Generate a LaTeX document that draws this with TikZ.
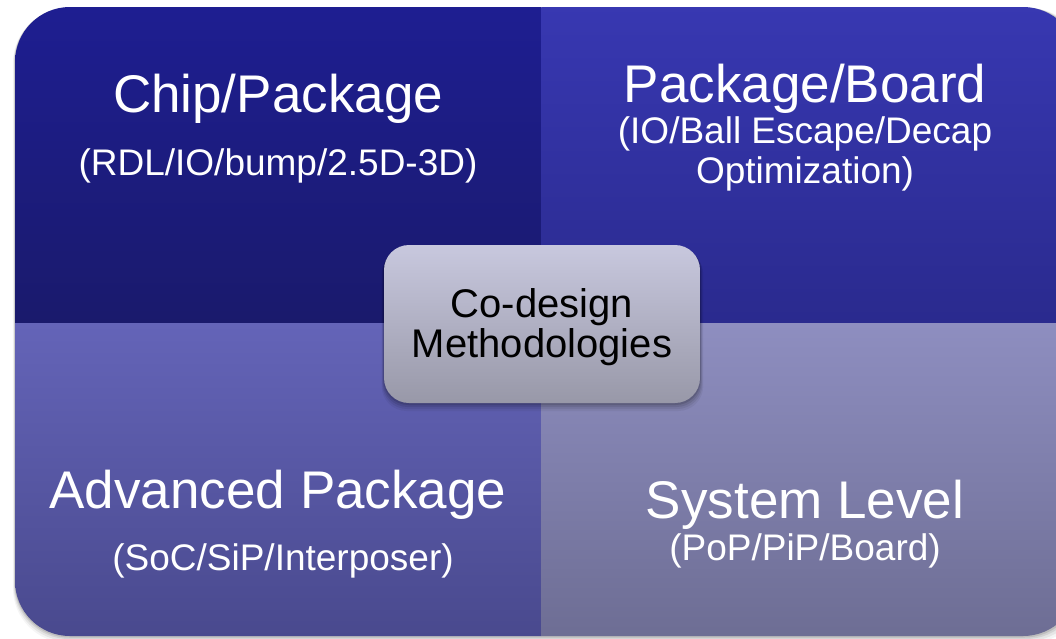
\documentclass[tikz,border=0pt]{standalone}
\usepackage{fontspec}
\setmainfont{Liberation Sans}
\definecolor{tlTop}{RGB}{30,30,146}
\definecolor{tlBot}{RGB}{26,26,108}
\definecolor{trTop}{RGB}{56,56,178}
\definecolor{trBot}{RGB}{42,42,142}
\definecolor{blTop}{RGB}{100,100,184}
\definecolor{blBot}{RGB}{72,72,140}
\definecolor{brTop}{RGB}{142,142,192}
\definecolor{brBot}{RGB}{108,108,146}
\definecolor{coreTop}{RGB}{200,200,222}
\definecolor{coreBot}{RGB}{152,152,168}
\begin{document}
\begin{tikzpicture}[x=1pt,y=-1pt,
  title/.style={text=white,font=\fontsize{53}{60}\selectfont,anchor=base,inner sep=0pt},
  subtitle/.style={text=white,font=\fontsize{37}{42}\selectfont,anchor=base,inner sep=0pt},
  corebox/.style={rounded corners=25pt,minimum width=316pt,minimum height=158pt,
    top color=coreTop,bottom color=coreBot,align=center,text=black,
    font=\fontsize{40}{40}\selectfont,inner sep=0pt}]
\useasboundingbox (0,0) rectangle (1056,638);
\fill[white] (0,0) rectangle (1056,638);
% soft shadow under the panel
\foreach \o/\a in {7/0.04,5/0.06,3/0.08,1.5/0.1}
  \fill[black,opacity=\a,rounded corners=55pt] (15-0.3*\o,7+0.2*\o) rectangle (1078+\o,636+\o);
% four shaded quadrants clipped to the rounded panel
\begin{scope}
  \clip[rounded corners=55pt] (15,7) rectangle (1078,636);
  \shade[top color=tlTop,bottom color=tlBot] (0,0) rectangle (541.5,323);
  \shade[top color=trTop,bottom color=trBot] (541.5,0) rectangle (1090,323);
  \shade[top color=blTop,bottom color=blBot] (0,323) rectangle (541.5,650);
  \shade[top color=brTop,bottom color=brBot] (541.5,323) rectangle (1090,650);
\end{scope}
% quadrant labels
\node[title]    (cp)   at (278,112) {Chip/Package};
\node[subtitle] (cps)  at (278,175) {(RDL/IO/bump/2.5D-3D)};
\node[title]    (pb)   at (805,102) {Package/Board};
\node[subtitle] (pbs1) at (805,143) {(IO/Ball Escape/Decap};
\node[subtitle] (pbs2) at (805,183) {Optimization)};
\node[title]    (ap)   at (278,508) {Advanced Package};
\node[subtitle] (aps)  at (283,570) {(SoC/SiP/Interposer)};
\node[title]    (sl)   at (805,518) {System Level};
\node[subtitle] (sls)  at (805,560) {(PoP/PiP/Board)};
% central box with its shadow
\foreach \o/\a in {8/0.05,6/0.07,4/0.09,2/0.12}
  \fill[black,opacity=\a,rounded corners=25pt] (384-0.3*\o,245+0.5*\o) rectangle (700+0.4*\o,403+\o);
\node[corebox] (core) at (542,324) {\rule{0pt}{34.5pt}Co-design\\Methodologies};
\end{tikzpicture}
\end{document}
